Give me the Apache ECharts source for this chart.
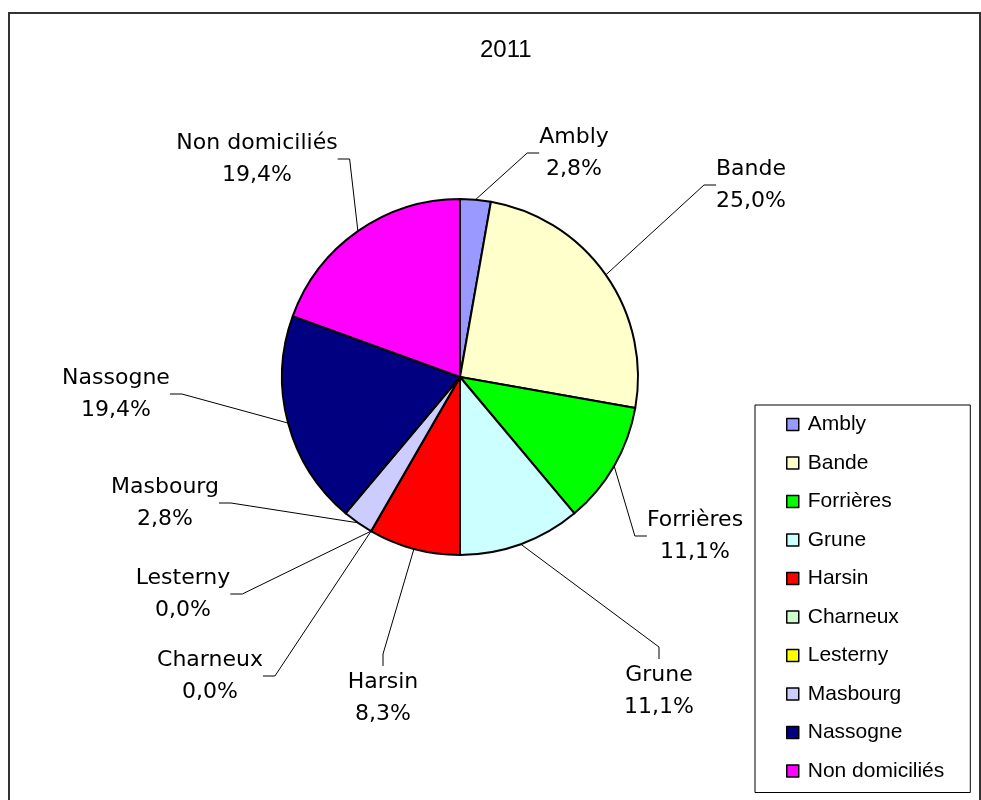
<!DOCTYPE html>
<html>
<head>
<meta charset="utf-8">
<script src="https://cdn.jsdelivr.net/npm/echarts@6/dist/echarts.min.js"></script>
<style>
html,body{margin:0;padding:0;background:#fff;}
#chart{width:981px;height:800px;}
</style>
</head>
<body>
<div id="chart"></div>
<script>
// ---- data ----
const title = '2011';
const categories = ['Ambly', 'Bande', 'Forrières', 'Grune', 'Harsin', 'Charneux', 'Lesterny', 'Masbourg', 'Nassogne', 'Non domiciliés'];
const counts = [1, 9, 4, 4, 3, 0, 0, 1, 7, 7];

// ---- styles / layout ----
const colors = ['#9999FF', '#FFFFCC', '#00FF00', '#CCFFFF', '#FF0000', '#CCFFCC', '#FFFF00', '#CCCCFF', '#000080', '#FF00FF'];
// label block centres (text centre x, block centre y)
const labelCenters = [
  [574, 153], [751, 185], [695, 536], [659, 691], [383, 698],
  [210, 676], [183, 594], [165, 503], [116, 394], [257, 159]
];
const FONT = '"Liberation Sans", Arial, sans-serif';
const LABEL_FONT = '"DejaVu Sans", "Liberation Sans", Arial, sans-serif';
const total = counts.reduce(function (a, b) { return a + b; }, 0);

const chart = echarts.init(document.getElementById('chart'), null, {renderer: 'canvas'});
chart.setOption({
  animation: false,
  backgroundColor: '#fff',
  title: {
    text: title,
    left: 475,
    top: 33,
    textStyle: {fontFamily: FONT, fontSize: 24, fontWeight: 'normal', color: '#000'}
  },
  legend: {
    orient: 'vertical',
    left: 755,
    top: 405,
    padding: [9, 26, 11, 31],
    borderColor: '#000',
    borderWidth: 1,
    itemWidth: 12,
    itemHeight: 12,
    itemGap: 17.5,
    icon: 'rect',
    itemStyle: {borderColor: '#000', borderWidth: 1.5},
    textStyle: {fontFamily: FONT, fontSize: 21, color: '#000', lineHeight: 20, padding: [0, 0, 0, 4]},
    data: categories
  },
  graphic: [{
    type: 'rect',
    shape: {x: 9, y: 13, width: 971, height: 800},
    style: {fill: 'none', stroke: '#333', lineWidth: 2},
    silent: true
  }],
  series: [{
    type: 'pie',
    center: [460, 377],
    radius: 178,
    startAngle: 90,
    clockwise: true,
    avoidLabelOverlap: false,
    itemStyle: {borderColor: '#000', borderWidth: 2},
    label: {
      show: true,
      position: 'outside',
      fontFamily: LABEL_FONT,
      fontSize: 22,
      lineHeight: 32,
      color: '#000',
      align: 'center',
      formatter: function (p) {
        const pct = (p.value / total * 100).toFixed(1).replace('.', ',');
        return p.name + '\n' + pct + '%';
      }
    },
    labelLine: {
      show: true,
      length: 15,
      length2: 12,
      lineStyle: {color: '#000', width: 1}
    },
    labelLayout: function (params) {
      const c = labelCenters[params.dataIndex];
      return {x: c[0], y: c[1], align: 'center', verticalAlign: 'middle'};
    },
    emphasis: {disabled: true},
    data: categories.map(function (name, i) {
      return {name: name, value: counts[i], itemStyle: {color: colors[i]}};
    })
  }]
});
</script>
</body>
</html>
